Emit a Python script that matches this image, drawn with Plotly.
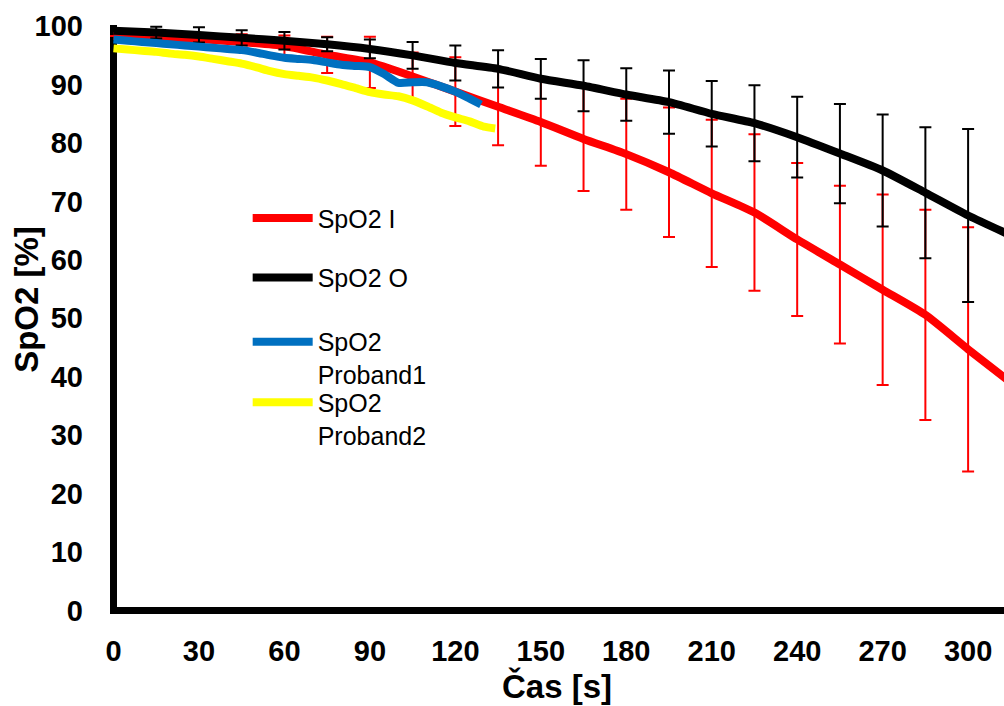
import plotly.graph_objects as go

# ---- data ----
t_group = [0, 15, 30, 45, 60, 75, 90, 105, 120, 135, 150, 165, 180, 195, 210, 225, 240, 255, 270, 285, 300, 315]

spo2_i = [98.3, 98.1, 97.8, 97.3, 96.6, 95.1, 93.8, 91.4, 88.8, 86.2, 83.6, 80.7, 78.1, 75.0, 71.4, 68.1, 63.5, 59.2, 54.9, 50.6, 44.7, 39.0]
spo2_i_err = [None, 0.8, 1.0, 1.3, 1.8, 3.1, 4.4, 4.1, 5.9, 6.6, 7.5, 8.9, 9.5, 11.1, 12.6, 13.4, 13.1, 13.5, 16.3, 18.0, 20.9, None]

spo2_o = [99.2, 98.9, 98.5, 98.0, 97.5, 96.9, 96.1, 95.0, 93.7, 92.7, 91.0, 89.8, 88.3, 87.0, 85.0, 83.4, 81.0, 78.2, 75.3, 71.5, 67.6, 64.2]
spo2_o_err = [None, 1.0, 1.3, 1.3, 1.5, 1.2, 1.6, 2.3, 3.0, 3.2, 3.4, 4.35, 4.5, 5.4, 5.6, 6.5, 6.9, 8.5, 9.6, 11.2, 14.8, None]

t_p1 = [0, 5, 10, 15, 20, 25, 30, 35, 40, 45, 50, 55, 60, 65, 70, 75, 80, 85, 90, 95, 100, 105, 110, 115, 120, 125, 129]
proband1 = [97.7, 97.5, 97.3, 97.1, 96.9, 96.7, 96.5, 96.3, 96.1, 95.9, 95.5, 95.0, 94.6, 94.4, 94.2, 93.8, 93.4, 93.2, 93.0, 91.8, 90.3, 90.4, 90.4, 89.7, 88.8, 87.6, 86.6]

t_p2 = [0, 5, 10, 15, 20, 25, 30, 35, 40, 45, 50, 55, 60, 65, 70, 75, 80, 85, 90, 95, 100, 105, 110, 115, 120, 125, 130, 134]
proband2 = [96.2, 96.0, 95.8, 95.6, 95.3, 95.1, 94.8, 94.4, 94.0, 93.6, 93.0, 92.3, 91.8, 91.5, 91.2, 90.7, 90.1, 89.4, 88.7, 88.3, 88.0, 87.3, 86.3, 85.2, 84.4, 83.7, 82.8, 82.5]

x_ticks = [0, 30, 60, 90, 120, 150, 180, 210, 240, 270, 300]
y_ticks = [0, 10, 20, 30, 40, 50, 60, 70, 80, 90, 100]

FONT = "Liberation Sans, Arial, sans-serif"

fig = go.Figure()

fig.add_trace(go.Scatter(
    x=t_group, y=spo2_i, mode="lines", name="SpO2 I",
    line=dict(color="#FF0000", width=8, shape="spline", smoothing=0.6),
    error_y=dict(type="data", array=spo2_i_err, visible=True, color="#FF0000", thickness=2, width=6),
    legend="legend",
))
fig.add_trace(go.Scatter(
    x=t_group, y=spo2_o, mode="lines", name="SpO2 O",
    line=dict(color="#000000", width=8, shape="spline", smoothing=0.6),
    error_y=dict(type="data", array=spo2_o_err, visible=True, color="#000000", thickness=2, width=6),
    legend="legend2",
))
fig.add_trace(go.Scatter(
    x=t_p1, y=proband1, mode="lines", name="SpO2<br>Proband1",
    line=dict(color="#0070C0", width=8, shape="spline", smoothing=0.6),
    legend="legend3",
))
fig.add_trace(go.Scatter(
    x=t_p2, y=proband2, mode="lines", name="SpO2<br>Proband2",
    line=dict(color="#FFFF00", width=8, shape="spline", smoothing=0.6),
    legend="legend4",
))

leg_common = dict(font=dict(family=FONT, size=25, color="#000000"), bgcolor="rgba(0,0,0,0)",
                  borderwidth=0, xanchor="left", yanchor="top", itemwidth=60, valign="top")
lx = 0.154
fig.update_layout(
    legend=dict(x=lx, y=0.711, **leg_common),
    legend2=dict(x=lx, y=0.610, **leg_common),
    legend3=dict(x=lx, y=0.501, **leg_common),
    legend4=dict(x=lx, y=0.398, **leg_common),
)

fig.update_layout(
    width=1004, height=706,
    margin=dict(l=110, r=0, t=25, b=92, pad=0),
    plot_bgcolor="#FFFFFF", paper_bgcolor="#FFFFFF",
    showlegend=True,
    font=dict(family=FONT, color="#000000"),
    xaxis=dict(
        range=[-1.23, 312.6], tickvals=x_ticks, ticktext=[str(v) for v in x_ticks],
        showgrid=False, showline=False, ticks="",
        zeroline=True, zerolinecolor="#000000", zerolinewidth=7,
        tickfont=dict(family=FONT, size=29, weight="bold"),
        ticklabelstandoff=17,
        title=dict(text="Čas [s]", font=dict(family=FONT, size=33, weight="bold"), standoff=2),
    ),
    yaxis=dict(
        range=[-0.6, 100.2], tickvals=y_ticks, ticktext=[str(v) for v in y_ticks],
        showgrid=False, showline=False, ticks="",
        zeroline=True, zerolinecolor="#000000", zerolinewidth=7,
        tickfont=dict(family=FONT, size=29, weight="bold"),
        ticklabelstandoff=26,
    ),
    annotations=[dict(
        text="SpO2 [%]", textangle=-90, xref="paper", yref="paper",
        x=(27 - 110) / 894, y=(614 - 300) / 588.7, xanchor="center", yanchor="middle",
        showarrow=False, font=dict(family=FONT, size=33, weight="bold", color="#000000"),
    )],
)

fig.write_html("out.html")
